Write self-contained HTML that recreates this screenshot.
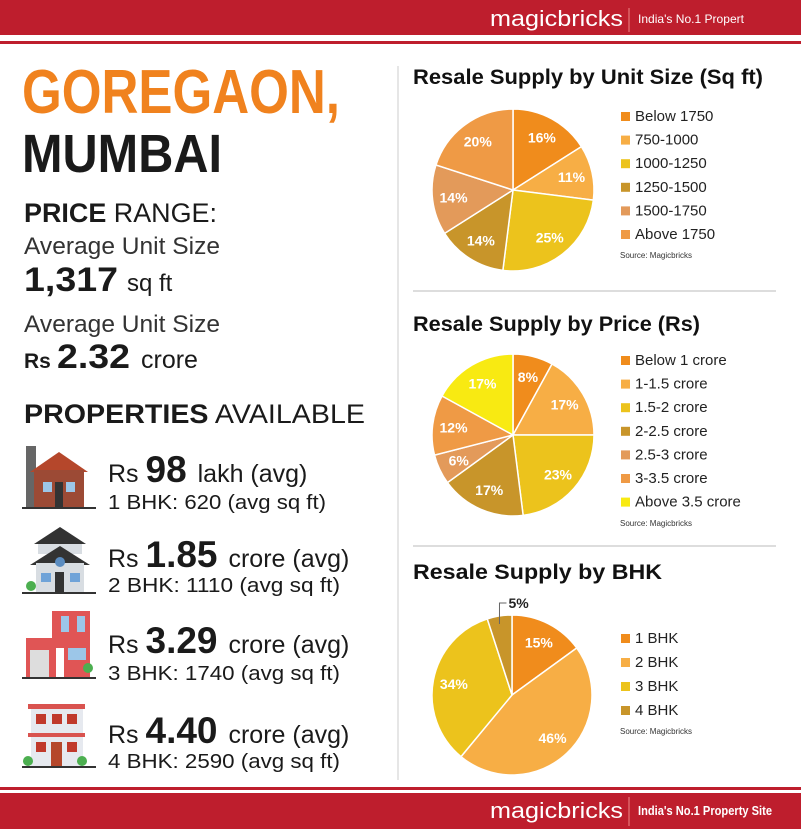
<!DOCTYPE html>
<html><head><meta charset="utf-8"><style>
html,body{margin:0;padding:0;background:#fff;width:801px;height:829px;overflow:hidden}
svg{display:block;font-family:"Liberation Sans",sans-serif}
</style></head><body>
<svg id="page" width="801" height="829" viewBox="0 0 801 829" xmlns="http://www.w3.org/2000/svg">
<g>
<rect x="0" y="0" width="801" height="35" fill="#be1e2d"/>
<rect x="0" y="41" width="801" height="3" fill="#be1e2d"/>
<text x="490" y="26" font-size="22" fill="#fff" textLength="133" lengthAdjust="spacingAndGlyphs">magicbricks</text>
<line x1="629" y1="8" x2="629" y2="32" stroke="#e88" stroke-width="1"/>
<text x="638" y="23" font-size="12" fill="#fff" textLength="106" lengthAdjust="spacingAndGlyphs">India's No.1 Propert</text>
</g>
<g>
<rect x="0" y="787" width="801" height="3" fill="#be1e2d"/>
<rect x="0" y="793" width="801" height="36" fill="#be1e2d"/>
<text x="490" y="818" font-size="22" fill="#fff" textLength="133" lengthAdjust="spacingAndGlyphs">magicbricks</text>
<line x1="629" y1="797" x2="629" y2="826" stroke="#e88" stroke-width="1"/>
<text x="638" y="815" font-size="13" fill="#fff" font-weight="bold" textLength="134" lengthAdjust="spacingAndGlyphs">India's No.1 Property Site</text>
</g>
<line x1="398" y1="66" x2="398" y2="780" stroke="#ccc" stroke-width="1"/>
<line x1="413" y1="291" x2="776" y2="291" stroke="#ddd" stroke-width="2"/>
<line x1="413" y1="546" x2="776" y2="546" stroke="#ddd" stroke-width="2"/>

<g fill="#1a1a1a">
<text x="22" y="113" font-size="62" font-weight="bold" fill="#f0821e" textLength="318" lengthAdjust="spacingAndGlyphs">GOREGAON,</text>
<text x="22" y="172" font-size="54" font-weight="bold" textLength="200" lengthAdjust="spacingAndGlyphs">MUMBAI</text>
<text x="24" y="222" font-size="27" textLength="193" lengthAdjust="spacingAndGlyphs"><tspan font-weight="bold">PRICE</tspan> RANGE:</text>
<text x="24" y="254" font-size="24" fill="#333" textLength="196" lengthAdjust="spacingAndGlyphs">Average Unit Size</text>
<text x="24" y="291" font-size="34" font-weight="bold" textLength="94" lengthAdjust="spacingAndGlyphs">1,317</text>
<text x="127" y="291" font-size="24">sq ft</text>
<text x="24" y="332" font-size="24" fill="#333" textLength="196" lengthAdjust="spacingAndGlyphs">Average Unit Size</text>
<text x="24" y="368" font-size="21" font-weight="bold">Rs</text>
<text x="57" y="368" font-size="34" font-weight="bold" textLength="73" lengthAdjust="spacingAndGlyphs">2.32</text>
<text x="141" y="368" font-size="25">crore</text>
<text x="24" y="423" font-size="27" textLength="341" lengthAdjust="spacingAndGlyphs"><tspan font-weight="bold">PROPERTIES</tspan> AVAILABLE</text>

<g>
<rect x="26" y="446" width="10" height="62" fill="#666"/>
<polygon points="30,472 59,452 88,472" fill="#b5472b"/>
<rect x="34" y="470" width="50" height="38" fill="#9c4a35"/>
<rect x="43" y="482" width="9" height="10" fill="#9cc6e8"/><rect x="66" y="482" width="9" height="10" fill="#9cc6e8"/>
<rect x="55" y="482" width="8" height="26" fill="#333"/>
<rect x="22" y="507" width="74" height="2" fill="#333"/>
<text x="108" y="482" font-size="25">Rs <tspan font-size="37" font-weight="bold">98</tspan> <tspan dx="4">lakh (avg)</tspan></text>
<text x="108" y="509" font-size="20" textLength="218" lengthAdjust="spacingAndGlyphs">1 BHK: 620 (avg sq ft)</text>
</g>
<g>
<polygon points="34,544 60,527 86,544" fill="#333"/>
<rect x="38" y="544" width="44" height="10" fill="#d8dde2"/>
<polygon points="30,565 60,546 90,565" fill="#333"/>
<rect x="36" y="563" width="48" height="29" fill="#d8dde2"/>
<circle cx="60" cy="562" r="5" fill="#5a8cc0"/>
<rect x="41" y="573" width="10" height="9" fill="#6fa3d8"/><rect x="70" y="573" width="10" height="9" fill="#6fa3d8"/>
<rect x="55" y="572" width="9" height="20" fill="#333"/>
<circle cx="31" cy="586" r="5" fill="#4caf50"/>
<rect x="22" y="592" width="74" height="2" fill="#333"/>
<text x="108" y="567" font-size="25">Rs <tspan font-size="37" font-weight="bold">1.85</tspan> <tspan dx="4">crore (avg)</tspan></text>
<text x="108" y="592" font-size="20" textLength="232" lengthAdjust="spacingAndGlyphs">2 BHK: 1110 (avg sq ft)</text>
</g>
<g>
<rect x="52" y="611" width="38" height="30" fill="#e05555"/>
<rect x="26" y="638" width="64" height="40" fill="#e05555"/>
<rect x="30" y="650" width="19" height="28" fill="#ddd"/>
<rect x="56" y="648" width="8" height="30" fill="#fff"/>
<rect x="68" y="648" width="18" height="12" fill="#9cc6e8"/>
<rect x="61" y="616" width="8" height="16" fill="#9cc6e8"/><rect x="77" y="616" width="8" height="16" fill="#9cc6e8"/>
<circle cx="88" cy="668" r="5" fill="#4caf50"/>
<rect x="22" y="677" width="74" height="2" fill="#333"/>
<text x="108" y="653" font-size="25">Rs <tspan font-size="37" font-weight="bold">3.29</tspan> <tspan dx="4">crore (avg)</tspan></text>
<text x="108" y="680" font-size="20" textLength="232" lengthAdjust="spacingAndGlyphs">3 BHK: 1740 (avg sq ft)</text>
</g>
<g>
<rect x="28" y="704" width="57" height="5" fill="#d9534f"/>
<rect x="31" y="709" width="52" height="58" fill="#e6e9ef"/>
<rect x="28" y="733" width="57" height="4" fill="#d9534f"/>
<rect x="36" y="714" width="10" height="10" fill="#c0392b"/><rect x="52" y="714" width="10" height="10" fill="#c0392b"/><rect x="67" y="714" width="10" height="10" fill="#c0392b"/>
<rect x="36" y="742" width="10" height="10" fill="#c0392b"/><rect x="67" y="742" width="10" height="10" fill="#c0392b"/>
<rect x="51" y="742" width="11" height="25" fill="#b5472b"/>
<circle cx="28" cy="761" r="5" fill="#4caf50"/><circle cx="82" cy="761" r="5" fill="#4caf50"/>
<rect x="22" y="766" width="74" height="2" fill="#333"/>
<text x="108" y="743" font-size="25">Rs <tspan font-size="37" font-weight="bold">4.40</tspan> <tspan dx="4">crore (avg)</tspan></text>
<text x="108" y="768" font-size="20" textLength="232" lengthAdjust="spacingAndGlyphs">4 BHK: 2590 (avg sq ft)</text>
</g>
</g>
<g id="charts"></g>
</svg>
<script>
const unitCategories = ["Below 1750","750-1000","1000-1250","1250-1500","1500-1750","Above 1750"];
const unitValues = [16,11,25,14,14,20];
const unitColors = ["#f08c1c","#f7ae45","#ecc31c","#c8952a","#e39a5a","#ef9a45"];
const priceCategories = ["Below 1 crore","1-1.5 crore","1.5-2 crore","2-2.5 crore","2.5-3 crore","3-3.5 crore","Above 3.5 crore"];
const priceValues = [8,17,23,17,6,12,17];
const priceColors = ["#f08c1c","#f7ae45","#ecc31c","#c8952a","#e39a5a","#ef9a45","#f8ea12"];
const bhkCategories = ["1 BHK","2 BHK","3 BHK","4 BHK"];
const bhkValues = [15,46,34,5];
const bhkColors = ["#f08c1c","#f7ae45","#ecc31c","#c8952a"];

const NS="http://www.w3.org/2000/svg";
const root=document.getElementById('charts');
function mk(tag,attrs,parent){const e=document.createElementNS(NS,tag);for(const k in attrs)e.setAttribute(k,attrs[k]);parent.appendChild(e);return e;}
function pt(cx,cy,r,a){return [cx+r*Math.sin(a),cy-r*Math.cos(a)];}
function drawPie(key,title,titleY,titleW,cats,vals,cols,cx,cy,r,legY,legStep,srcY,outsideSmall){
  const g=mk('g',{},root);
  
  
  const t=mk('text',{x:413,y:titleY,'font-size':21,'font-weight':'bold',fill:'#111',textLength:titleW,lengthAdjust:'spacingAndGlyphs'},g);
  
  
  t.textContent=title;
  const total=vals.reduce((a,b)=>a+b,0);
  let a0=0;
  vals.forEach((v,i)=>{
    const a1=a0+v/total*2*Math.PI;
    const p0=pt(cx,cy,r,a0),p1=pt(cx,cy,r,a1);
    const large=(a1-a0)>Math.PI?1:0;
    const s=mk('path',{d:`M${cx},${cy}L${p0[0]},${p0[1]}A${r},${r} 0 ${large} 1 ${p1[0]},${p1[1]}Z`,fill:cols[i],stroke:'#fff','stroke-width':1.5},g);
    
    
    const mid=(a0+a1)/2;
    let lab;
    if(outsideSmall && v/total<0.08){
      const e=pt(cx,cy,r,mid);
      mk('path',{d:`M${e[0]},${e[1]+8}L${e[0]},${cy-r-12}L${e[0]+7},${cy-r-12}`,stroke:'#666',fill:'none','stroke-width':1},g);
      lab=mk('text',{x:e[0]+9,y:cy-r-7,'font-size':14,'font-weight':'bold',fill:'#222'},g);
    } else {
      const lp=pt(cx,cy,r*0.74,mid);
      lab=mk('text',{x:lp[0],y:lp[1]+5,'font-size':14,'font-weight':'bold',fill:'#fff','text-anchor':'middle'},g);
    }
    
    
    lab.textContent=v+'%';
    a0=a1;
  });
  cats.forEach((c,i)=>{
    const y=legY+i*legStep;
    const sq=mk('rect',{x:621,y:y-9,width:9,height:9,fill:cols[i]},g);
    
    
    const lt=mk('text',{x:635,y:y,'font-size':15,fill:'#222'},g);
    
    
    lt.textContent=c;
  });
  const src=mk('text',{x:620,y:srcY,'font-size':8,fill:'#333'},g);
  
  
  src.textContent='Source: Magicbricks';
}
drawPie('unit-size','Resale Supply by Unit Size (Sq ft)',84,350,unitCategories,unitValues,unitColors,513,190,81,121,23.6,258,false);
drawPie('price','Resale Supply by Price (Rs)',331,287,priceCategories,priceValues,priceColors,513,435,81,365,23.6,526,false);
drawPie('bhk','Resale Supply by BHK',579,249,bhkCategories,bhkValues,bhkColors,512,695,80,643,24,734,true);
</script>
</body></html>
